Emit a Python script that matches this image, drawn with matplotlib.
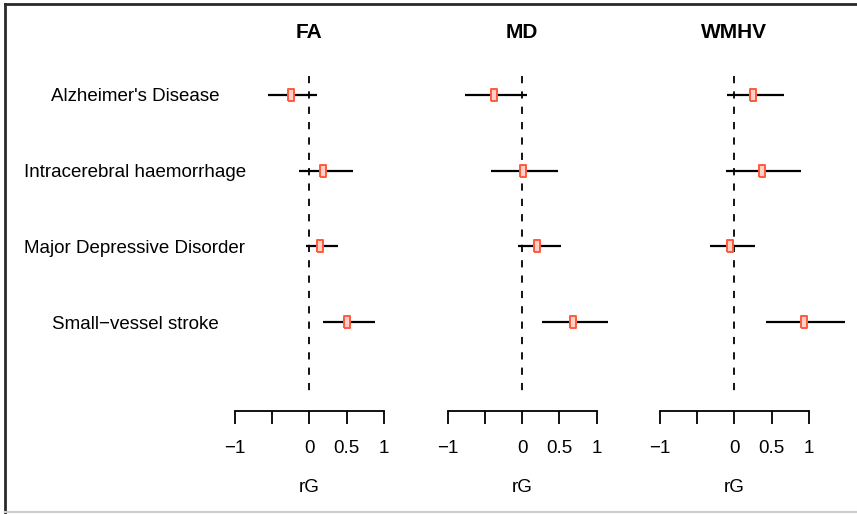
import matplotlib
matplotlib.use("Agg")
import matplotlib.pyplot as plt
from matplotlib.lines import Line2D
import numpy as np

plt.rcParams["font.family"] = ["Liberation Sans", "DejaVu Sans"]

# 形質と指標
traits = ["Alzheimer's Disease", "Intracerebral haemorrhage",
          "Major Depressive Disorder", "Small\u2212vessel stroke"]
panels = ["FA", "MD", "WMHV"]

# rG 推定値と信頼区間
fa_est = [-0.25, 0.19, 0.14, 0.51]
fa_lo = [-0.55, -0.14, -0.05, 0.18]
fa_hi = [0.11, 0.58, 0.39, 0.88]

md_est = [-0.37, 0.01, 0.20, 0.68]
md_lo = [-0.76, -0.41, -0.06, 0.27]
md_hi = [0.07, 0.48, 0.52, 1.16]

wmhv_est = [0.25, 0.37, -0.06, 0.93]
wmhv_lo = [-0.10, -0.11, -0.33, 0.42]
wmhv_hi = [0.67, 0.90, 0.28, 1.49]

xticks = [-1, -0.5, 0, 0.5, 1]
xticklabels = ["\u22121", "", "0", "0.5", "1"]

data = {
    "FA": (fa_est, fa_lo, fa_hi),
    "MD": (md_est, md_lo, md_hi),
    "WMHV": (wmhv_est, wmhv_lo, wmhv_hi),
}

W, H = 857, 514
fig = plt.figure(figsize=(W / 100, H / 100), dpi=100)

# パネル位置 (ピクセル): ゼロ線の x
zero_px = {"FA": 309.3, "MD": 522.0, "WMHV": 734.3}
scale = 74.5  # px / unit
xmin, xmax = -1.1, 1.55
top_px, bot_px = 60, 410.7
row_px = 75.7
row0_px = 95

rows = np.arange(1, len(traits) + 1)
ylim_top = 1 - (row0_px - top_px) / row_px
ylim_bot = 1 + (bot_px - row0_px) / row_px

# 縦長の四角マーカー
rect = [(-0.6, -1), (0.6, -1), (0.6, 1), (-0.6, 1), (-0.6, -1)]

for i, name in enumerate(panels):
    left = zero_px[name] + xmin * scale
    width = (xmax - xmin) * scale
    ax = fig.add_axes([left / W, 1 - bot_px / H, width / W, (bot_px - top_px) / H])
    ax.patch.set_alpha(0)
    est, lo, hi = data[name]

    ax.vlines(0, 0.75, 5.0, colors="black", linestyles=(0, (4, 4.5)), lw=1.3)
    ax.hlines(rows, lo, hi, colors="black", lw=1.6)
    ax.plot(est, rows, linestyle="none", marker=rect, markersize=8,
            markerfacecolor="#ffd0c8", markeredgecolor="#ff5a3c", markeredgewidth=1.4)

    ax.set_xlim(xmin, xmax)
    ax.set_ylim(ylim_bot, ylim_top)
    for s in ["top", "right", "left"]:
        ax.spines[s].set_visible(False)
    ax.spines["bottom"].set_bounds(-1, 1)
    ax.spines["bottom"].set_linewidth(1.3)
    ax.set_xticks(xticks)
    ax.set_xticklabels(xticklabels, fontsize=13.5)
    ax.tick_params(axis="x", length=9, width=1.3, pad=12, direction="out")

    if i == 0:
        ax.set_yticks(rows)
        ax.set_yticklabels(traits, fontsize=13.5, ha="center")
        ax.tick_params(axis="y", length=0, pad=(left - 135) * 0.72)
    else:
        ax.set_yticks([])

    tr = ax.get_xaxis_transform()
    ax.text(0, 1 + (top_px - 32) / (bot_px - top_px), name, transform=tr,
            ha="center", va="center", fontsize=15, fontweight="bold")
    ax.text(0, -(488 - bot_px) / (bot_px - top_px), "rG", transform=tr,
            ha="center", va="center", fontsize=13.5)

# 外枠
fig.add_artist(Line2D([5 / W, 5 / W], [0, 1 - 4 / H], transform=fig.transFigure,
                      color="#2a2a2a", lw=2))
fig.add_artist(Line2D([5 / W, 1], [1 - 4 / H, 1 - 4 / H], transform=fig.transFigure,
                      color="#2a2a2a", lw=2))
fig.add_artist(Line2D([5 / W, 1], [1 - 512 / H, 1 - 512 / H], transform=fig.transFigure,
                      color="#cccccc", lw=1.5))

fig.savefig("out.png", dpi=100)
